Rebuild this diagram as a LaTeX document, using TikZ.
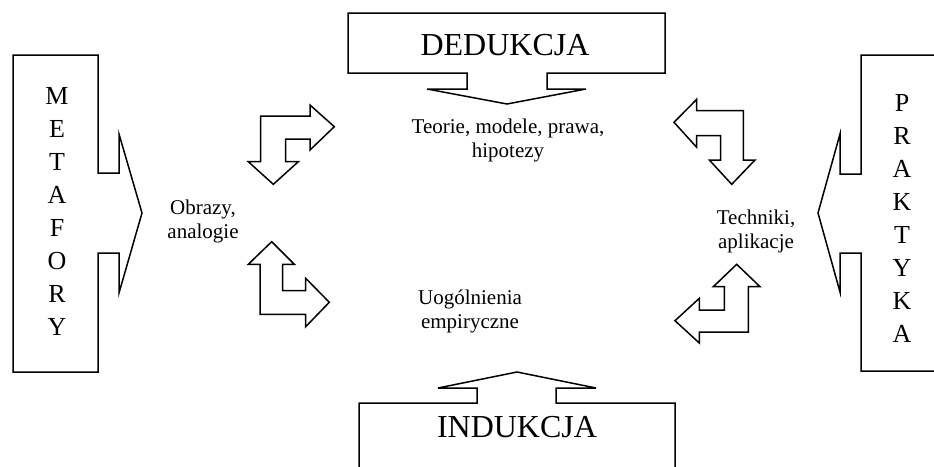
\documentclass[tikz,border=0pt]{standalone}
\usepackage{fontspec}
\setmainfont{Liberation Serif}
\begin{document}
\begin{tikzpicture}[x=1pt,y=-1pt,
  outline/.style={draw=black,line width=1.5pt,line join=miter,fill=white},
  label/.style={font=\fontsize{21}{24}\selectfont,align=center,inner sep=0pt},
  bigtitle/.style={font=\fontsize{32}{36}\selectfont,inner sep=0pt},
  column/.style={font=\fontsize{26}{33}\selectfont,align=center,inner sep=0pt}]
\useasboundingbox (0,0) rectangle (934,466);
\clip (0,0) rectangle (934,466);

% callout boxes with arrow heads
\draw[outline] (13,55) -- (98,55) -- (98,173) -- (119,173) -- (119,134) -- (142,213)
  -- (119,293) -- (119,253) -- (98,253) -- (98,372) -- (13,372) -- cycle;
\draw[outline] (945,55) -- (861,55) -- (861,174) -- (840,174) -- (840,134) -- (818,213)
  -- (840,292) -- (840,253) -- (861,253) -- (861,371) -- (945,371) -- cycle;
\draw[outline] (348,13) -- (665,13) -- (665,73) -- (547,73) -- (547,89) -- (586,89)
  -- (507,104) -- (427,89) -- (467,89) -- (467,73) -- (348,73) -- cycle;
\draw[outline] (359,480) -- (359,403) -- (477,403) -- (477,388) -- (438,388) -- (517,372)
  -- (596,388) -- (556,388) -- (556,403) -- (675,403) -- (675,480) -- cycle;

% bent double arrows
\draw[outline] (260.7,116) -- (310,116) -- (310,105) -- (334.3,126.7) -- (310,150)
  -- (310,139) -- (285.7,139) -- (285.7,161.7) -- (298.3,161.7) -- (273.3,184.3)
  -- (248.3,161.7) -- (260.7,161.7) -- cycle;
\draw[outline] (271.7,241.7) -- (294.3,264.3) -- (282.7,264.3) -- (282.7,290.7)
  -- (305.7,290.7) -- (305.7,278.3) -- (329.3,302.3) -- (305.7,326.7) -- (305.7,314.3)
  -- (260,314.3) -- (260,264.3) -- (248.3,264.3) -- cycle;
\draw[outline] (674,122.3) -- (696.7,99.3) -- (696.7,110.7) -- (743.3,110.7)
  -- (743.3,160) -- (755,160) -- (731.7,184.3) -- (709.3,160) -- (720.7,160)
  -- (720.7,135.7) -- (696.7,135.7) -- (696.7,147.3) -- cycle;
\draw[outline] (736.7,264.3) -- (760,286.7) -- (748.3,286.7) -- (748.3,332)
  -- (699.3,332) -- (699.3,343) -- (675,320.7) -- (699.3,298.3) -- (699.3,310)
  -- (724.3,310) -- (724.3,286.7) -- (713.3,286.7) -- cycle;

% texts
\node[bigtitle] (ded) at (505,45) {DEDUKCJA};
\node[bigtitle] (ind) at (517,427) {INDUKCJA};
\node[column] (met) at (57,211) {M\\E\\T\\A\\F\\O\\R\\Y};
\node[column] (pra) at (902,218) {P\\R\\A\\K\\T\\Y\\K\\A};
\node[label] (teo) at (508,140) {Teorie, modele, prawa,\\hipotezy};
\node[label] (obr) at (203,221) {Obrazy,\\analogie};
\node[label] (tec) at (756,231) {Techniki,\\aplikacje};
\node[label] (uog) at (470,311) {Uogólnienia\\empiryczne};
\end{tikzpicture}
\end{document}
